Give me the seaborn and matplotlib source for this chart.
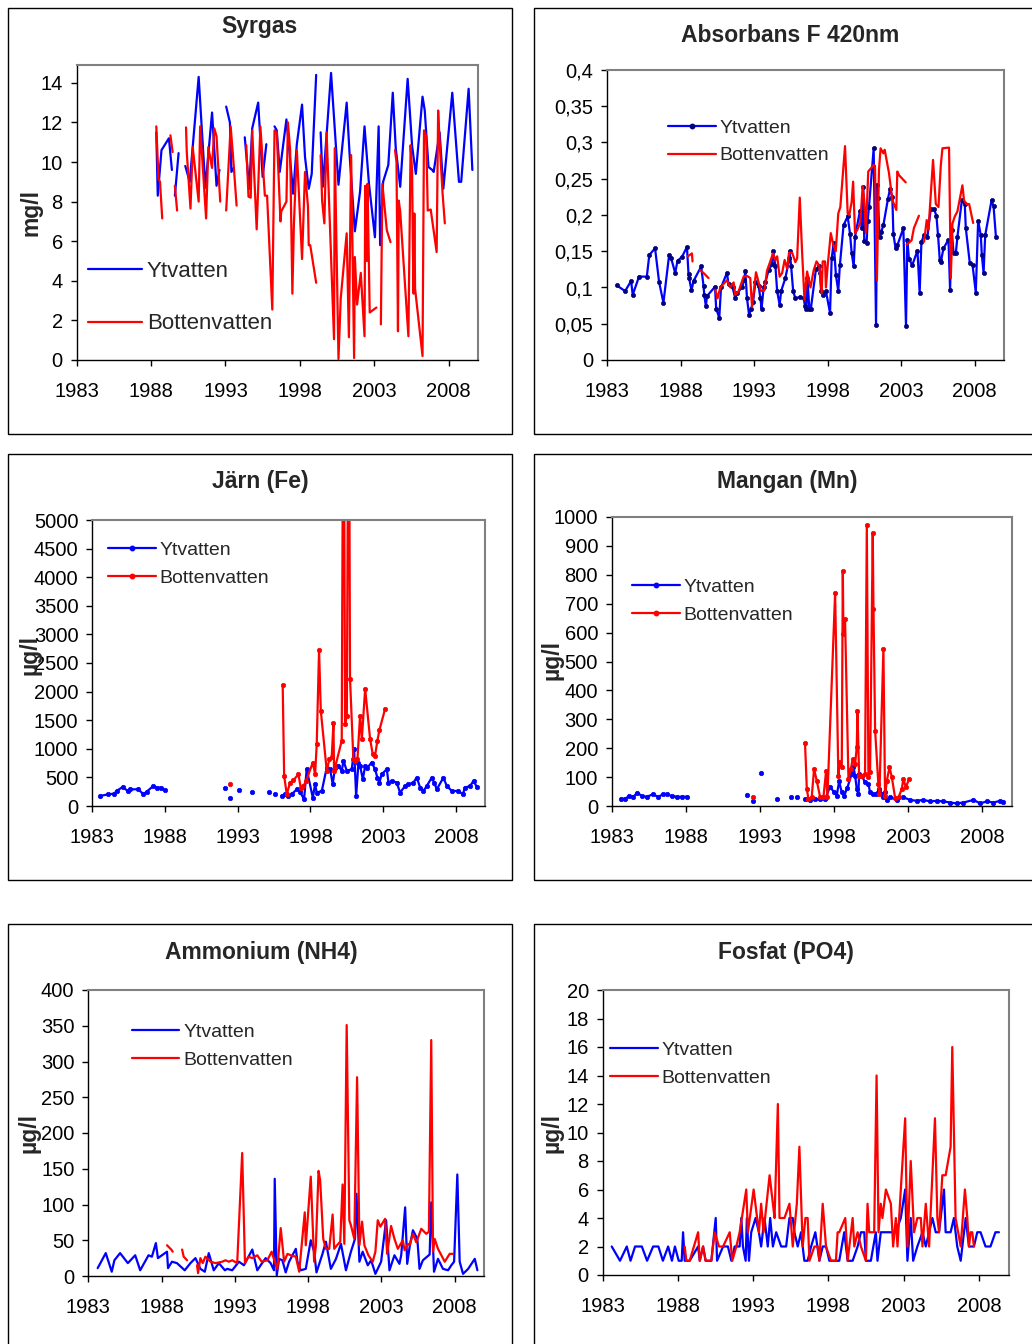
import numpy as np
import pandas as pd
import matplotlib
matplotlib.use('Agg')
import matplotlib.pyplot as plt
from matplotlib.lines import Line2D
from matplotlib.patches import Rectangle
import seaborn as sns

nan = np.nan

# ---------------- Syrgas (mg/l) ----------------
syr_yt_year = [1988.35, 1988.45, 1988.7, 1989.2, 1989.4, nan, 1989.6, 1989.85, nan,
               1990.3, 1990.6, 1991.2, 1991.65, 1992.1, 1992.4, 1992.6, nan,
               1993.05, 1993.3, 1993.4, 1993.55, nan,
               1994.3, 1994.6, 1994.8, 1995.2, 1995.5, 1995.75, nan,
               1996.3, 1996.45, 1996.65, 1997.1, 1997.3, 1997.55, 1997.8, 1998.15, 1998.35,
               1998.6, 1998.8, 1999.1, nan,
               1999.4, 1999.55, 2000.1, 2000.6, 2001.15, 2001.35, 2001.7, 2002.05, 2002.35,
               2002.65, 2003.05, 2003.3, 2003.4, 2003.6, 2003.95, 2004.25, 2004.45, 2004.75,
               2005.25, 2005.55, 2005.8, 2006.25, 2006.4, 2006.65, 2006.9, 2007.0, 2007.4,
               2007.65, 2008.25, 2008.7, 2008.85, 2009.35, 2009.6]
syr_yt_val = [11.5, 8.3, 10.6, 11.2, 9.6, nan, 8.3, 10.45, nan,
              9.8, 9.0, 14.3, 8.7, 12.5, 8.8, 9.6, nan,
              12.8, 12.0, 9.5, 9.7, nan,
              11.25, 8.65, 11.7, 13.0, 9.25, 10.9, nan,
              11.8, 11.6, 9.5, 12.15, 10.55, 8.4, 10.9, 12.9, 10.25,
              8.65, 9.4, 14.4, nan,
              11.5, 8.75, 14.5, 8.85, 13.0, 10.35, 6.5, 8.5, 11.8,
              8.9, 6.2, 11.8, 5.8, 9.0, 9.85, 13.5, 10.7, 8.75,
              14.2, 10.8, 9.4, 13.3, 12.6, 9.75, 9.6, 9.5, 11.5,
              8.65, 13.5, 9.0, 9.0, 13.7, 9.6]

syr_bv_year = [1988.35, 1988.5, 1988.6, 1988.75, nan, 1989.3, 1989.45, nan, 1989.6, 1989.75, nan,
               1990.35, 1990.4, 1990.65, 1990.8, 1991.2, 1991.3, 1991.7, 1991.85, 1992.1,
               1992.25, 1992.4, 1992.65, nan,
               1993.05, 1993.35, 1993.5, 1993.75, nan,
               1994.4, 1994.55, 1994.7, 1994.8, 1995.1, 1995.35, 1995.65, 1995.8, 1996.15,
               1996.3, 1996.45, 1996.7, 1996.75, 1997.1, 1997.2, 1997.35, 1997.5, 1997.6,
               1997.8, 1998.15, 1998.35, 1998.55, 1998.6, 1998.7, 1999.1, nan,
               1999.4, 1999.5, 1999.65, 1999.8, 2000.3, 2000.35, 2000.6, 2000.75, 2001.15,
               2001.3, 2001.45, 2001.65, 2001.7, 2001.85, 2002.1, 2002.35, 2002.4, 2002.5,
               2002.55, 2002.7, 2003.15, nan,
               2003.45, 2003.55, 2003.85, 2004.1, nan,
               2004.4, 2004.5, 2004.6, 2004.65, 2004.75, 2005.3, 2005.45, 2005.55, 2005.6,
               2005.65, 2005.7, 2005.75, 2006.25, 2006.35, 2006.5, 2006.6, 2006.8, 2007.2,
               2007.3, 2007.4, 2007.6, 2007.75]
syr_bv_val = [11.8, 9.15, 9.0, 7.15, nan, 11.35, 10.5, nan, 8.8, 7.55, nan,
              11.75, 10.5, 7.65, 10.75, 8.0, 11.8, 7.15, 10.75, 9.7,
              11.7, 11.3, 8.0, nan,
              7.55, 11.8, 10.4, 7.8, nan,
              10.85, 8.25, 8.2, 11.6, 6.6, 11.8, 8.3, 8.3, 2.55,
              11.6, 11.5, 7.0, 7.5, 8.0, 12.0, 10.6, 3.35, 6.8,
              10.6, 5.1, 9.5, 7.75, 5.8, 5.8, 3.9, nan,
              10.35, 8.05, 6.9, 11.5, 1.05, 10.7, 0.05, 3.1, 6.4,
              1.15, 10.35, 0.1, 5.2, 2.8, 4.4, 1.2, 8.8, 5.0,
              8.9, 2.4, 2.65, nan,
              1.8, 8.9, 6.55, 5.95, nan,
              10.6, 10.0, 1.45, 8.05, 7.5, 1.2, 10.85, 9.5, 5.8,
              3.35, 7.4, 3.6, 0.2, 11.6, 11.3, 7.55, 7.6, 5.45,
              12.6, 11.0, 8.4, 6.9]

# ---------------- Absorbans F 420nm ----------------
abs_yt_year = [1983.64, 1984.21, 1984.62, 1984.73, 1985.16, 1985.69, 1985.86, 1986.25, 1986.53,
               1986.82, 1987.21, 1987.35, 1987.62, 1987.78, 1988.08, 1988.42, 1988.53, 1988.57,
               1988.73, 1988.87, 1989.39, 1989.55, 1989.6, 1989.71, 1989.78, 1990.33, 1990.41,
               1990.62, 1990.74, 1991.14, 1991.25, 1991.53, 1991.71, 1991.83, 1992.17, 1992.32,
               1992.39, 1992.51, 1992.65, 1992.78, 1992.92, 1993.08, 1993.3, 1993.42, 1993.5,
               1993.64, 1993.76, 1993.98, 1994.21, 1994.28, 1994.44, 1994.56, 1994.73, 1994.83,
               1995.12, 1995.39, 1995.41, 1995.51, 1995.65, 1995.8, 1996.1, 1996.37, 1996.45,
               1996.55, 1996.62, 1996.75, 1996.85, 1997.2, 1997.43, 1997.48, 1997.55, 1997.66,
               1997.88, 1998.16, 1998.27, 1998.41, 1998.56, 1998.72, 1998.83, 1999.08, 1999.36,
               1999.52, 1999.63, 1999.77, 1999.86, 2000.2, 2000.31, 2000.42, 2000.49, 2000.65,
               2000.72, 2000.81, 2001.13, 2001.29, 2001.38, 2001.42, 2001.53, 2001.65, 2001.79,
               2002.1, 2002.24, 2002.4, 2002.47, 2002.62, 2002.74, 2003.15, 2003.33, 2003.42,
               2003.53, 2003.76, 2004.11, 2004.26, 2004.38, 2004.56, 2004.79, 2005.01, 2005.24,
               2005.4, 2005.51, 2005.63, 2005.7, 2005.88, 2006.22, 2006.33, 2006.44, 2006.57,
               2006.72, 2006.83, 2007.13, 2007.33, 2007.4, 2007.67, 2007.86, 2008.08, 2008.24,
               2008.42, 2008.49, 2008.61, 2008.72, 2009.15, 2009.29, 2009.45]
abs_yt_val = [0.103, 0.095, 0.109, 0.09, 0.115, 0.115, 0.145, 0.154, 0.107,
              0.079, 0.145, 0.14, 0.12, 0.137, 0.142, 0.156, 0.118, 0.113,
              0.096, 0.109, 0.129, 0.102, 0.09, 0.074, 0.088, 0.101, 0.071,
              0.058, 0.1, 0.12, 0.105, 0.1, 0.085, 0.092, 0.1, 0.11,
              0.123, 0.085, 0.062, 0.07, 0.08, 0.107, 0.102, 0.085, 0.071,
              0.1, 0.107, 0.124, 0.132, 0.15, 0.13, 0.095, 0.076, 0.095,
              0.113, 0.14, 0.15, 0.13, 0.095, 0.085, 0.087, 0.085, 0.075,
              0.07, 0.113, 0.07, 0.07, 0.125, 0.129, 0.12, 0.095, 0.09,
              0.095, 0.065, 0.14, 0.162, 0.117, 0.095, 0.131, 0.186, 0.198,
              0.174, 0.148, 0.129, 0.17, 0.206, 0.182, 0.239, 0.164, 0.162,
              0.192, 0.211, 0.292, 0.048, 0.241, 0.223, 0.17, 0.177, 0.186,
              0.222, 0.236, 0.225, 0.174, 0.154, 0.158, 0.182, 0.047, 0.166,
              0.139, 0.131, 0.151, 0.093, 0.163, 0.172, 0.17, 0.208, 0.208,
              0.199, 0.172, 0.138, 0.135, 0.154, 0.166, 0.097, 0.179, 0.147,
              0.147, 0.17, 0.22, 0.215, 0.182, 0.134, 0.131, 0.093, 0.192,
              0.172, 0.145, 0.12, 0.172, 0.22, 0.212, 0.17]

abs_bv_year = [1988.48, 1988.76, 1988.8, nan, 1989.32, 1989.55, 1989.89, nan,
               1990.35, 1990.5, 1990.69, 1991.14, 1991.37, 1991.6, 1991.71, 1991.94, 1992.28,
               1992.51, 1992.73, 1992.85, 1993.12, 1993.3, 1993.46, 1993.69, 1993.87, 1994.28,
               1994.44, 1994.56, 1994.73, 1994.9, 1995.07, 1995.24, 1995.37, 1995.58, 1995.8,
               1995.92, 1996.1, 1996.26, 1996.42, 1996.6, 1996.83, 1997.05, 1997.24, 1997.43,
               1997.59, 1997.66, 1997.82, 1997.88, 1997.99, 1998.21, 1998.37, 1998.55, 1998.72,
               1998.86, 1999.18, 1999.36, 1999.47, 1999.63, 1999.73, 1999.86, 2000.03, 2000.22,
               2000.38, 2000.49, 2000.6, 2000.76, 2001.13, 2001.22, 2001.35, 2001.49, 2001.6,
               2001.79, 2001.88, 2002.17, 2002.4, 2002.51, 2002.67, 2002.74, 2002.85, 2003.31, nan,
               2003.37, 2003.71, 2003.87, 2004.21, nan,
               2004.56, 2004.74, 2004.86, 2005.17, 2005.36, 2005.54, 2005.7, 2005.81, 2006.26,
               2006.38, 2006.49, 2006.65, 2006.83, 2007.17, 2007.28, 2007.47, 2007.63, 2007.9]
abs_bv_val = [0.143, 0.147, 0.136, nan, 0.124, 0.12, 0.113, nan,
              0.097, 0.085, 0.1, 0.11, 0.1, 0.107, 0.09, 0.095, 0.115,
              0.116, 0.113, 0.073, 0.121, 0.107, 0.095, 0.096, 0.123, 0.147,
              0.138, 0.143, 0.115, 0.12, 0.138, 0.126, 0.148, 0.148, 0.135,
              0.14, 0.224, 0.148, 0.083, 0.122, 0.1, 0.124, 0.136, 0.13,
              0.092, 0.136, 0.136, 0.1, 0.128, 0.175, 0.16, 0.15, 0.202,
              0.211, 0.295, 0.202, 0.2, 0.218, 0.246, 0.175, 0.18, 0.19,
              0.24, 0.22, 0.175, 0.26, 0.269, 0.268, 0.11, 0.262, 0.292,
              0.285, 0.29, 0.258, 0.221, 0.215, 0.207, 0.26, 0.255, 0.245, nan,
              0.159, 0.165, 0.182, 0.199, nan,
              0.163, 0.193, 0.18, 0.276, 0.215, 0.211, 0.269, 0.292, 0.293,
              0.113, 0.188, 0.198, 0.205, 0.241, 0.22, 0.215, 0.215, 0.189]

# ---------------- Järn (Fe) ----------------
fe_yt_year = [1983.53, 1984.1, 1984.51, 1984.67, 1985.09, 1985.43, 1985.59, 1986.17, 1986.51,
              1986.74, 1987.2, 1987.43, 1987.72, 1988.0, nan,
              1992.13, nan, 1992.5, nan, 1993.1, nan, 1994.0, nan, 1995.15, nan, 1995.55, nan,
              1996.02, 1996.25, 1996.48, 1996.71, 1997.06, 1997.29, 1997.56, 1997.74, 1998.16,
              1998.32, 1998.43, 1998.78, 1999.12, 1999.35, 1999.53, 1999.69, 1999.92, 2000.15,
              2000.27, 2000.5, 2000.84, 2001.0, 2001.14, 2001.3, 2001.41, 2001.6, 2001.76,
              2001.92, 2002.21, 2002.44, 2002.6, 2002.74, 2002.9, 2003.25, 2003.36, 2003.59,
              2003.93, 2004.16, 2004.51, 2004.74, 2005.08, 2005.31, 2005.54, 2005.77, 2006.0,
              2006.34, 2006.5, 2006.69, 2007.14, 2007.37, 2007.72, 2008.17, 2008.47, 2008.63,
              2008.98, 2009.21, 2009.44]
fe_yt_val = [175, 205, 216, 263, 333, 263, 292, 292, 205,
             251, 351, 322, 322, 275, nan,
             320, nan, 146, nan, 287, nan, 245, nan, 245, nan, 210, nan,
             175, 205, 175, 205, 292, 245, 117, 643, 146,
             380, 234, 263, 673, 643, 380, 673, 702, 614,
             790, 614, 643, 995, 175, 760, 702, 468, 702,
             673, 760, 643, 497, 410, 556, 643, 410, 439,
             410, 234, 351, 380, 410, 497, 322, 263, 351,
             497, 410, 292, 497, 351, 263, 263, 205, 322,
             351, 439, 333]

fe_bv_year = [1992.5, nan,
              1996.09, 1996.19, 1996.37, 1996.6, 1996.83, 1997.17, 1997.33, 1997.52, 1997.7,
              1998.16, 1998.32, 1998.43, 1998.59, 1998.71, 1999.12, 1999.3, 1999.46, 1999.58,
              1999.62, 1999.69, 2000.15, 2000.27, 2000.38, 2000.5, 2000.63, 2000.72, 2000.95,
              2001.07, 2001.23, 2001.41, 2001.53, 2001.76, 2002.1, 2002.28, 2002.44, 2002.6,
              2002.74, 2003.13]
fe_bv_val = [392, nan,
             2117, 526, 205, 410, 450, 556, 322, 351, 439,
             760, 556, 1082, 2720, 1667, 614, 819, 848, 1450,
             614, 673, 1140, 9000, 1433, 1580, 9000, 2223, 819,
             790, 819, 1580, 1170, 2047, 1170, 907, 878, 1140,
             1328, 1697]

# ---------------- Mangan (Mn) ----------------
mn_yt_year = [1983.59, 1983.88, 1984.17, 1984.44, 1984.71, 1985.0, 1985.34, 1985.75, 1986.13,
              1986.42, 1986.69, 1987.03, 1987.37, 1987.7, 1988.09, nan,
              1992.09, nan, 1992.5, nan, 1993.06, nan, 1994.12, nan, 1995.06, nan, 1995.47, nan,
              1996.03, 1996.37, 1996.71, 1997.05, 1997.38, 1997.72, 1997.99, 1998.17, 1998.33,
              1998.51, 1998.67, 1998.89, 1999.18, 1999.3, 1999.41, 1999.52, 1999.63, 1999.68,
              1999.86, 2000.08, 2000.31, 2000.42, 2000.65, 2000.83, 2001.05, 2001.21, 2001.32,
              2001.43, 2001.55, 2001.77, 2002.22, 2002.67, 2003.12, 2003.57, 2004.02, 2004.47,
              2004.92, 2005.37, 2005.82, 2006.27, 2006.72, 2007.4, 2007.85, 2008.3, 2008.75,
              2009.2, 2009.42]
mn_yt_val = [25, 25, 35, 32, 46, 35, 32, 40, 32,
             40, 40, 35, 32, 32, 32, nan,
             38, nan, 18, nan, 115, nan, 25, nan, 32, nan, 32, nan,
             24, 22, 23, 23, 23, 67, 47, 36, 85,
             47, 36, 64, 111, 134, 105, 59, 42, 111,
             105, 82, 76, 47, 42, 42, 59, 42, 30,
             47, 21, 30, 21, 30, 21, 18, 21, 16,
             18, 16, 12, 9, 12, 21, 9, 16, 12,
             18, 15]

mn_bv_year = [1992.5, nan,
              1996.03, 1996.15, 1996.26, 1996.48, 1996.64, 1996.82, 1997.05, 1997.27, 1997.45,
              1997.54, 1998.06, 1998.28, 1998.35, 1998.51, 1998.58, 1998.62, 1998.73, 1998.96,
              1999.12, 1999.25, 1999.41, 1999.52, 1999.57, 1999.68, 1999.86, 2000.08, 2000.2,
              2000.31, 2000.42, 2000.6, 2000.65, 2000.76, 2000.98, 2001.05, 2001.32, 2001.43,
              2001.55, 2001.73, 2001.89, 2002.11, 2002.34, 2002.56, 2002.67, 2002.83, 2003.06]
mn_bv_val = [32, nan,
             217, 59, 24, 30, 128, 88, 30, 30, 120,
             30, 737, 105, 151, 134, 813, 596, 648, 94,
             128, 163, 146, 203, 327, 105, 105, 111, 971,
             99, 117, 945, 683, 261, 76, 42, 544, 36,
             87, 134, 99, 28, 30, 59, 94, 65, 94]

# ---------------- Ammonium (NH4) ----------------
nh4_yt_year = [1983.64, 1984.19, 1984.6, 1984.78, 1985.17, 1985.7, 1986.2, 1986.54, 1987.11,
               1987.34, 1987.61, 1987.75, 1988.37, 1988.44, 1988.71, 1989.05, 1989.58, 1989.97,
               1990.31, 1990.65, 1990.95, 1991.22, 1991.56, 1991.91, 1992.32, 1992.48, 1992.82,
               1993.28, 1993.62, 1994.19, 1994.53, 1994.76, 1995.1, 1995.44, 1995.67, 1995.72,
               1995.86, 1996.02, 1996.24, 1996.47, 1996.7, 1997.16, 1997.27, 1997.5, 1997.84,
               1998.18, 1998.41, 1998.57, 1998.98, 1999.21, 1999.55, 1999.9, 2000.24, 2000.58,
               2000.92, 2001.2, 2001.3, 2001.5, 2001.72, 2002.07, 2002.3, 2002.59, 2002.98,
               2003.32, 2003.55, 2003.89, 2004.23, 2004.35, 2004.62, 2004.76, 2004.92, 2005.15,
               2005.45, 2005.6, 2005.83, 2006.29, 2006.4, 2006.59, 2006.86, 2007.2, 2007.55,
               2007.77, 2007.96, 2008.18, 2008.34, 2008.57, 2008.92, 2009.37, 2009.55]
nh4_yt_val = [11, 32, 6, 22, 32, 18, 29, 8, 29,
              27, 46, 25, 34, 11, 20, 18, 8, 18,
              25, 10, 6, 32, 8, 18, 8, 10, 8,
              20, 15, 37, 8, 15, 25, 18, 8, 136,
              1, 24, 22, 5, 20, 38, 20, 8, 10,
              50, 34, 5, 31, 48, 10, 24, 45, 8,
              34, 52, 115, 20, 34, 15, 22, 3, 20,
              78, 8, 29, 17, 29, 96, 17, 40, 64,
              52, 10, 22, 30, 103, 6, 24, 10, 8,
              15, 20, 142, 20, 3, 10, 24, 8]

nh4_bv_year = [1988.37, 1988.66, 1988.76, nan, 1989.4, 1989.51, 1989.74, nan,
               1990.42, 1990.49, 1990.65, 1990.81, 1990.99, 1991.34, 1991.68, 1992.14, 1992.36,
               1992.59, 1992.82, 1993.16, 1993.5, 1993.69, 1993.92, 1994.19, 1994.53, 1994.83,
               1995.22, 1995.51, 1995.72, 1995.9, 1996.13, 1996.36, 1996.59, 1996.81, 1997.16,
               1997.39, 1997.77, 1997.84, 1998.18, 1998.41, 1998.53, 1998.71, 1998.82, 1999.03,
               1999.21, 1999.44, 1999.67, 1999.78, 1999.97, 2000.19, 2000.35, 2000.47, 2000.63,
               2000.81, 2000.92, 2001.15, 2001.34, 2001.5, 2001.68, 2001.84, 2002.11, 2002.41,
               2002.59, 2002.75, 2002.93, 2003.25, 2003.39, 2003.66, 2003.89, 2004.12, 2004.46,
               2004.58, 2004.81, 2004.92, 2005.15, 2005.38, 2005.72, 2006.06, 2006.24, 2006.4,
               2006.52, 2006.63, 2006.86, 2007.32, 2007.66, 2007.89]
nh4_bv_val = [43, 37, 34, nan, 37, 27, 22, nan,
              15, 4, 25, 18, 27, 20, 18, 20, 22,
              20, 22, 18, 172, 18, 27, 25, 29, 20,
              22, 34, 20, 10, 67, 20, 31, 29, 27,
              6, 89, 43, 139, 20, 43, 147, 134, 52,
              38, 38, 86, 38, 43, 48, 128, 45, 351,
              78, 71, 52, 278, 43, 76, 43, 29, 20,
              34, 78, 69, 80, 31, 70, 52, 38, 50,
              36, 45, 43, 59, 47, 66, 59, 62, 330,
              34, 52, 38, 20, 31, 31]

# ---------------- Fosfat (PO4) ----------------
po4_yt_year = [1983.6, 1984.15, 1984.6, 1984.85, 1985.15, 1985.6, 1985.95, 1986.35, 1986.7,
               1987.0, 1987.35, 1987.6, 1987.8, 1988.05, 1988.25, 1988.34, 1988.45, 1988.78,
               1989.34, 1989.45, 1989.67, 1989.84, 1990.22, 1990.51, 1990.6, 1991.0, 1991.32,
               1991.55, 1991.77, 1992.1, 1992.21, 1992.32, 1992.5, 1992.58, 1992.72, 1992.87,
               1993.16, 1993.38, 1993.53, 1993.75, 1993.97, 1994.13, 1994.31, 1994.53, 1994.86,
               1995.19, 1995.41, 1995.63, 1995.74, 1995.96, 1996.18, 1996.4, 1996.62, 1996.85,
               1997.13, 1997.4, 1997.62, 1997.84, 1998.06, 1998.5, 1998.72, 1999.05, 1999.28,
               1999.61, 1999.94, 2000.16, 2000.38, 2000.49, 2000.82, 2001.15, 2001.26, 2001.48,
               2001.82, 2002.15, 2002.48, 2002.81, 2003.1, 2003.25, 2003.47, 2003.63, 2003.91,
               2004.25, 2004.47, 2004.69, 2004.91, 2005.13, 2005.35, 2005.68, 2005.79, 2006.12,
               2006.34, 2006.56, 2006.79, 2007.12, 2007.34, 2007.67, 2007.89, 2008.11, 2008.44,
               2008.77, 2009.1, 2009.33]
po4_yt_val = [2, 1, 2, 1, 2, 2, 1, 2, 2,
              1, 2, 1, 2, 1, 1, 3, 1, 1,
              2, 1, 2, 1, 1, 4, 1, 2, 2,
              1, 2, 2, 4, 2, 1, 4, 1, 3,
              4, 3, 2, 4, 2, 4, 2, 3, 2,
              2, 4, 4, 3, 2, 3, 1, 1, 2,
              3, 1, 2, 2, 1, 1, 1, 3, 1,
              1, 2, 3, 3, 1, 1, 3, 1, 3,
              3, 3, 3, 4, 6, 1, 4, 1, 2,
              3, 2, 3, 4, 3, 3, 6, 3, 3,
              4, 2, 1, 4, 2, 2, 3, 3, 2,
              2, 3, 3]

po4_bv_year = [1988.45, 1988.56, 1988.78, 1989.34, 1989.45, 1989.67, 1989.84, 1990.22, 1990.44,
               1990.73, 1991.0, 1991.44, 1991.61, 1991.88, 1992.1, 1992.54, 1992.65, 1993.03,
               1993.38, 1993.53, 1993.69, 1994.09, 1994.31, 1994.42, 1994.64, 1994.75, 1995.08,
               1995.41, 1995.63, 1995.9, 1996.07, 1996.29, 1996.47, 1996.62, 1996.74, 1997.07,
               1997.29, 1997.4, 1997.62, 1997.84, 1998.17, 1998.5, 1998.61, 1998.72, 1999.12,
               1999.28, 1999.61, 1999.72, 1999.94, 2000.16, 2000.49, 2000.6, 2000.71, 2001.04,
               2001.2, 2001.33, 2001.48, 2001.59, 2001.82, 2002.15, 2002.3, 2002.48, 2002.59,
               2002.81, 2003.1, 2003.25, 2003.47, 2003.69, 2003.91, 2004.14, 2004.25, 2004.47,
               2004.69, 2005.08, 2005.24, 2005.35, 2005.57, 2005.79, 2006.12, 2006.23, 2006.45,
               2006.79, 2007.07, 2007.23, 2007.34, 2007.45, 2007.56, 2007.67]
po4_bv_val = [2, 1, 1, 3, 1, 2, 1, 1, 3,
              2, 2, 3, 1, 2, 3, 6, 3, 6,
              3, 5, 3, 7, 5, 4, 12, 4, 4,
              5, 2, 5, 9, 2, 4, 4, 1, 2,
              2, 1, 5, 2, 1, 1, 3, 3, 4,
              1, 4, 2, 3, 2, 1, 5, 3, 3,
              14, 3, 5, 4, 6, 5, 2, 4, 2,
              6, 11, 2, 8, 3, 4, 4, 2, 5,
              2, 11, 4, 3, 7, 7, 9, 16, 4,
              2, 6, 4, 2, 3, 3, 2]

year_ticks = [1983, 1988, 1993, 1998, 2003, 2008]
series_names = ['Ytvatten', 'Bottenvatten']

# ---------------- styling ----------------
sns.set_theme(style='white')
plt.rcParams['font.family'] = ['Liberation Sans', 'DejaVu Sans']

W, H = 1032, 1344
fig = plt.figure(figsize=(W / 100, H / 100), dpi=100)
fig.patch.set_facecolor('white')

BLUE = '#0000FF'
RED = '#FF0000'
NAVY = '#000080'


def rect(l, t, r, b):
    return [l / W, 1 - b / H, (r - l) / W, (b - t) / H]


def draw(ax, years, vals, color, marker=None, mcolor=None, ms=3.2):
    df = pd.DataFrame({'year': years, 'val': vals})
    df['seg'] = df['val'].isna().cumsum()
    df = df.dropna()
    kw = dict(color=color, lw=1.6)
    if marker:
        kw.update(marker=marker, markersize=ms, markerfacecolor=mcolor or color,
                  markeredgecolor=mcolor or color, markeredgewidth=0.5)
    sns.lineplot(data=df, x='year', y='val', units='seg', estimator=None, sort=False,
                 errorbar=None, legend=False, ax=ax, **kw)


def style_axes(ax, ylim, yticks, ylabels, xend=2010.0):
    ax.set_xlim(1983, xend)
    ax.set_ylim(*ylim)
    ax.set_xticks(year_ticks)
    ax.set_xticklabels([str(y) for y in year_ticks])
    ax.set_yticks(yticks)
    ax.set_yticklabels(ylabels)
    ax.set_xlabel('')
    ax.set_ylabel('')
    ax.set_facecolor('white')
    for s in ['top', 'right']:
        ax.spines[s].set_color('#808080')
        ax.spines[s].set_linewidth(1.5)
    for s in ['left', 'bottom']:
        ax.spines[s].set_color('black')
        ax.spines[s].set_linewidth(1.0)
    ax.tick_params(axis='both', which='major', labelsize=14.5, colors='black',
                   direction='out', length=4, width=1)
    ax.tick_params(axis='x', bottom=True, pad=12)
    ax.tick_params(axis='y', left=True, pad=6)
    ax.grid(False)


def add_legend(ax, x, y, fs, mk_y=None, mk_b=None, mc_y=None, mc_b=None, spacing=0.3):
    h1 = Line2D([0], [0], color=BLUE, lw=1.6, marker=mk_y, markersize=3.2,
                markerfacecolor=mc_y or BLUE, markeredgecolor=mc_y or BLUE)
    h2 = Line2D([0], [0], color=RED, lw=1.6, marker=mk_b, markersize=3.2,
                markerfacecolor=mc_b or RED, markeredgecolor=mc_b or RED)
    ax.legend([h1, h2], series_names, loc='center left', bbox_to_anchor=(x, y),
              frameon=False, fontsize=fs, handlelength=2.45, handletextpad=0.2,
              labelspacing=spacing, borderpad=0, borderaxespad=0, numpoints=1)


def panel_box(l, t, r, b):
    fig.patches.append(Rectangle((l / W, 1 - b / H), (r - l) / W, (b - t) / H,
                                 transform=fig.transFigure, fill=False,
                                 edgecolor='black', lw=1.0, zorder=0))


def ftext(x, y, s, **kw):
    fig.text(x / W, 1 - y / H, s, ha='center', va='center', **kw)


# panel frames
panel_box(8, 8, 512, 434)
panel_box(534, 8, 1045, 434)
panel_box(8, 454, 512, 880)
panel_box(534, 454, 1045, 880)
panel_box(8, 924, 512, 1355)
panel_box(534, 924, 1045, 1355)

TFS = 16.5

# 1 Syrgas
ax1 = fig.add_axes(rect(76.7, 65, 478.3, 360))
draw(ax1, syr_yt_year, syr_yt_val, BLUE)
draw(ax1, syr_bv_year, syr_bv_val, RED)
style_axes(ax1, (0, 14.9), list(range(0, 15, 2)), [str(v) for v in range(0, 15, 2)])
add_legend(ax1, 0.028, 0.212, 16, spacing=1.43)
ftext(259, 27, 'Syrgas', fontsize=TFS, fontweight='bold')
ftext(31, 212, 'mg/l', fontsize=TFS, fontweight='bold', rotation=90)

# 2 Absorbans
ax2 = fig.add_axes(rect(607.3, 70, 1004, 360))
draw(ax2, abs_yt_year, abs_yt_val, BLUE, marker='o', mcolor=NAVY, ms=3.0)
draw(ax2, abs_bv_year, abs_bv_val, RED)
abs_ticks = [0, 0.05, 0.1, 0.15, 0.2, 0.25, 0.3, 0.35, 0.4]
abs_labels = ['0', '0,05', '0,1', '0,15', '0,2', '0,25', '0,3', '0,35', '0,4']
style_axes(ax2, (0, 0.4), abs_ticks, abs_labels)
add_legend(ax2, 0.153, 0.752, 14, mk_y='o', mc_y=NAVY, spacing=0.5)
ftext(790, 36, 'Absorbans F 420nm', fontsize=TFS, fontweight='bold')

# 3 Järn
ax3 = fig.add_axes(rect(92.3, 520, 485, 806))
draw(ax3, fe_yt_year, fe_yt_val, BLUE, marker='o')
draw(ax3, fe_bv_year, fe_bv_val, RED, marker='o')
fe_ticks = list(range(0, 5001, 500))
style_axes(ax3, (0, 5000), fe_ticks, [str(v) for v in fe_ticks])
add_legend(ax3, 0.04, 0.846, 14, mk_y='o', mk_b='o', spacing=0.5)
ftext(260, 482, 'Järn (Fe)', fontsize=TFS, fontweight='bold')
ftext(30, 655, 'µg/l', fontsize=TFS, fontweight='bold', rotation=90)

# 4 Mangan
ax4 = fig.add_axes(rect(612, 517, 1012, 806))
draw(ax4, mn_yt_year, mn_yt_val, BLUE, marker='o')
draw(ax4, mn_bv_year, mn_bv_val, RED, marker='o')
mn_ticks = list(range(0, 1001, 100))
style_axes(ax4, (0, 1000), mn_ticks, [str(v) for v in mn_ticks])
add_legend(ax4, 0.05, 0.709, 14, mk_y='o', mk_b='o', spacing=0.5)
ftext(787, 482, 'Mangan (Mn)', fontsize=TFS, fontweight='bold')
ftext(552, 660, 'µg/l', fontsize=TFS, fontweight='bold', rotation=90)

# 5 Ammonium
ax5 = fig.add_axes(rect(88.3, 990, 484, 1276))
draw(ax5, nh4_yt_year, nh4_yt_val, BLUE)
draw(ax5, nh4_bv_year, nh4_bv_val, RED)
nh4_ticks = list(range(0, 401, 50))
style_axes(ax5, (0, 400), nh4_ticks, [str(v) for v in nh4_ticks])
add_legend(ax5, 0.11, 0.804, 14, spacing=0.5)
ftext(261, 952, 'Ammonium (NH4)', fontsize=TFS, fontweight='bold')
ftext(29, 1133, 'µg/l', fontsize=TFS, fontweight='bold', rotation=90)

# 6 Fosfat
ax6 = fig.add_axes(rect(602.7, 990, 1009, 1275))
draw(ax6, po4_yt_year, po4_yt_val, BLUE)
draw(ax6, po4_bv_year, po4_bv_val, RED)
po4_ticks = list(range(0, 21, 2))
style_axes(ax6, (0, 20), po4_ticks, [str(v) for v in po4_ticks])
add_legend(ax6, 0.018, 0.74, 14, spacing=0.5)
ftext(786, 953, 'Fosfat (PO4)', fontsize=TFS, fontweight='bold')
ftext(552, 1133, 'µg/l', fontsize=TFS, fontweight='bold', rotation=90)

fig.savefig('out.png', dpi=100, facecolor='white')
